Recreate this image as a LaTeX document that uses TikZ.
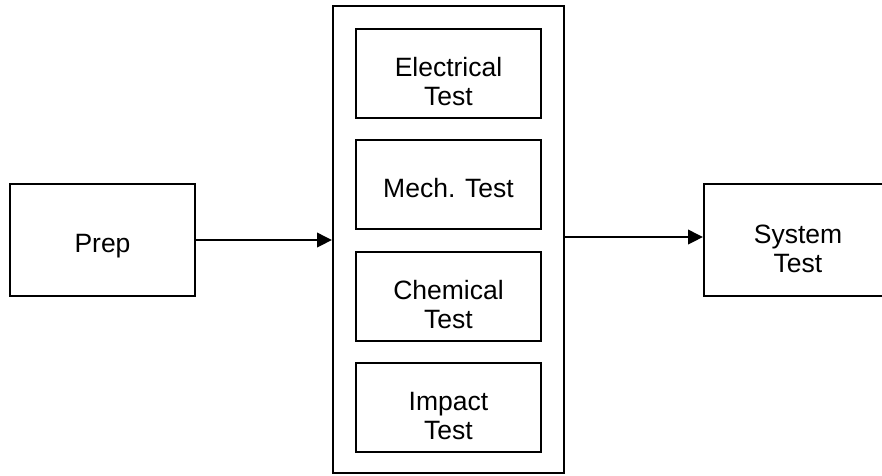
\documentclass[tikz,border=0pt]{standalone}
\usepackage{fontspec}
\setmainfont{Liberation Sans}
\usetikzlibrary{arrows.meta}
\newcommand\btwo[2]{\raisebox{-32pt}[0pt][0pt]{\begin{tabular}[b]{@{}c@{}}#1\\#2\end{tabular}}}
\newcommand\bone[1]{\raisebox{-12.5pt}[0pt][0pt]{#1}}
\begin{document}
\begin{tikzpicture}[x=1pt,y=-1pt,
  box/.style={draw,line width=2pt,align=center,inner sep=0pt,
    font=\fontsize{26.5}{29}\selectfont},
  testbox/.style={box,minimum width=185pt,minimum height=89pt},
  conn/.style={line width=2pt,-{Triangle[length=15pt,width=14.5pt]}}]
\useasboundingbox (0,0) rectangle (882,475);
\fill[white] (0,0) rectangle (882,475);
\clip (0,0) rectangle (882,475);
\node[box,minimum width=185pt,minimum height=112pt] (prep) at (102.5,240) {\bone{Prep}};
\node[box,minimum width=231pt,minimum height=467pt] (big) at (448.5,239.5) {};
\node[testbox] (elec) at (448.5,73) {\btwo{Electrical}{Test}};
\node[testbox] (mech) at (448.5,184.5) {\bone{Mech. Test}};
\node[testbox] (chem) at (448.5,296.5) {\btwo{Chemical}{Test}};
\node[testbox] (impact) at (448.5,407.5) {\btwo{Impact}{Test}};
\node[box,minimum width=188pt,minimum height=112pt] (sys) at (798,240) {\btwo{System}{Test}};
\coordinate (a2) at (600,237);
\draw[conn] (prep.east) -- (prep.east -| big.west);
\draw[conn] (big.east |- a2) -- (sys.west |- a2);
\end{tikzpicture}
\end{document}
